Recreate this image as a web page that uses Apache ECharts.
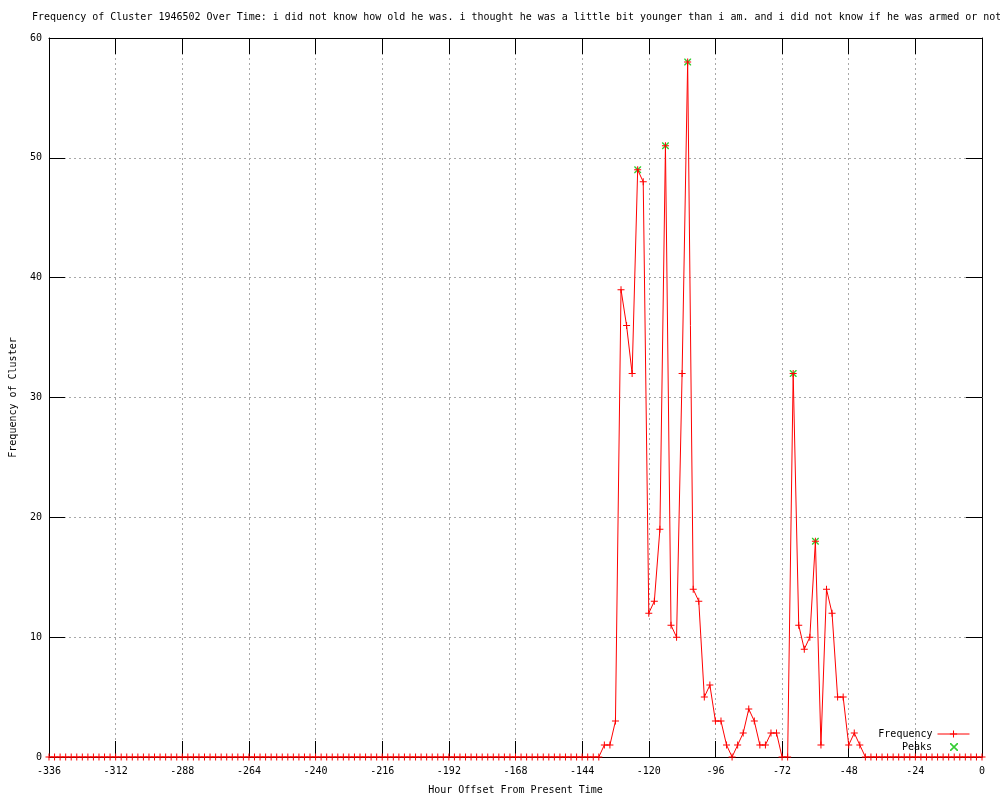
<!DOCTYPE html>
<html>
<head>
<meta charset="utf-8">
<title>Frequency of Cluster 1946502</title>
<script src="https://cdn.jsdelivr.net/npm/echarts@6/dist/echarts.min.js"></script>
<style>
  html, body { margin: 0; padding: 0; background: #fff; }
  #main { width: 1000px; height: 800px; }
</style>
</head>
<body>
<div id="main"></div>
<script>
// hours run from HOUR_START in steps of HOUR_STEP, one value per step
var HOUR_START = -336;
var HOUR_STEP = 2;

// frequency per 2-hour bucket, -336 .. 0
var freqValues = [
  0,0,0,0,0,0,0,0,0,0, 0,0,0,0,0,0,0,0,0,0,
  0,0,0,0,0,0,0,0,0,0, 0,0,0,0,0,0,0,0,0,0,
  0,0,0,0,0,0,0,0,0,0, 0,0,0,0,0,0,0,0,0,0,
  0,0,0,0,0,0,0,0,0,0, 0,0,0,0,0,0,0,0,0,0,
  0,0,0,0,0,0,0,0,0,0, 0,0,0,0,0,0,0,0,0,0,
  // -136 ..
  1,1,3,39,36,32,49,48,12,13,19,51,11,10,32,58,14,13,5,6,
  3,3,1,0,1,2,4,3,1,1,2,2,0,0,32,11,9,10,18,1,
  14,12,5,5,1,2,1,
  // -42 .. 0
  0,0,0,0,0,0,0,0,0,0,0,0,0,0,0,0,0,0,0,0,0,0
];

// peaks
var peakHours = [-124, -114, -106, -68, -60];
var peakValues = [49, 51, 58, 32, 18];

// axis ticks
var xMin = -336, xMax = 0, xInterval = 24;
var yMin = 0, yMax = 60, yInterval = 10;

var titleText = "Frequency of Cluster 1946502 Over Time: i did not know how old he was. i thought he was a little bit younger than i am. and i did not know if he was armed or not";

var FONT = "DejaVu Sans Mono";
var PLUS = 'path://M0,3H7V4H0Z M3,0H4V7H3Z';
var CROSS = 'path://M0,0L1,0L7,6L7,7L6,7L0,1Z M6,0L7,0L7,1L1,7L0,7L0,6Z';

function buildFreqData()
{
	var out = [];
	for (var i = 0; i < freqValues.length; i++) {
		out.push([HOUR_START + i * HOUR_STEP, freqValues[i]]);
	}
	return out;
}

function buildPeakData()
{
	var out = [];
	for (var i = 0; i < peakHours.length; i++) {
		out.push([peakHours[i], peakValues[i]]);
	}
	return out;
}

var myChart = echarts.init(document.getElementById('main'), null, { renderer: 'canvas' });

var tickStyle = { show: true, inside: true, length: 16, lineStyle: { color: '#000', width: 1 } };
var lineStyleBlack = { show: true, onZero: false, lineStyle: { color: '#000', width: 1 } };
var gridDots = { show: true, lineStyle: { color: '#a8a8a8', width: 1, type: [2, 3] } };

var option = {
	animation: false,
	backgroundColor: '#fff',
	title: {
		text: titleText,
		left: 32,
		top: 12,
		padding: 0,
		textStyle: { fontFamily: FONT, fontSize: 10, fontWeight: 'normal', color: '#000' }
	},
	legend: [
		{
			data: ['Frequency'],
			right: 30,
			top: 729,
			padding: 0,
			align: 'right',
			itemWidth: 32,
			itemHeight: 9,
			selectedMode: false,
			lineStyle: { width: 1, color: '#ff0000' },
			textStyle: { fontFamily: FONT, fontSize: 10, color: '#000' }
		},
		{
			data: ['Peaks'],
			right: 42,
			top: 742,
			padding: 0,
			align: 'right',
			itemWidth: 8,
			itemHeight: 8,
			selectedMode: false,
			textStyle: { fontFamily: FONT, fontSize: 10, color: '#000', padding: [0, 13, 0, 0] }
		}
	],
	grid: { left: 49, right: 18, top: 38, bottom: 40 },
	xAxis: [
		{
			type: 'value',
			position: 'bottom',
			min: xMin, max: xMax, interval: xInterval,
			name: 'Hour Offset From Present Time',
			nameLocation: 'middle',
			nameGap: 28,
			nameTextStyle: { fontFamily: FONT, fontSize: 10, color: '#000' },
			axisLine: lineStyleBlack,
			axisTick: tickStyle,
			axisLabel: { margin: 9, fontFamily: FONT, fontSize: 10, color: '#000' },
			splitLine: gridDots
		},
		{
			type: 'value',
			position: 'top',
			min: xMin, max: xMax, interval: xInterval,
			axisLine: lineStyleBlack,
			axisTick: tickStyle,
			axisLabel: { show: false },
			splitLine: { show: false }
		}
	],
	yAxis: [
		{
			type: 'value',
			position: 'left',
			min: yMin, max: yMax, interval: yInterval,
			name: 'Frequency of Cluster',
			nameLocation: 'middle',
			nameGap: 31,
			nameTextStyle: { fontFamily: FONT, fontSize: 10, color: '#000' },
			axisLine: lineStyleBlack,
			axisTick: tickStyle,
			axisLabel: { margin: 7, fontFamily: FONT, fontSize: 10, color: '#000' },
			splitLine: gridDots
		},
		{
			type: 'value',
			position: 'right',
			min: yMin, max: yMax, interval: yInterval,
			axisLine: lineStyleBlack,
			axisTick: tickStyle,
			axisLabel: { show: false },
			splitLine: { show: false }
		}
	],
	series: [
		{
			name: 'Frequency',
			type: 'line',
			data: buildFreqData(),
			symbol: PLUS,
			symbolSize: 7,
			showAllSymbol: true,
			itemStyle: { color: '#ff0000', borderWidth: 0 },
			lineStyle: { color: '#ff0000', width: 1 },
			z: 4
		},
		{
			name: 'Peaks',
			type: 'scatter',
			data: buildPeakData(),
			symbol: CROSS,
			symbolSize: 7,
			itemStyle: { color: '#00c000', borderWidth: 0 },
			z: 3
		}
	]
};

myChart.setOption(option);
</script>
</body>
</html>
